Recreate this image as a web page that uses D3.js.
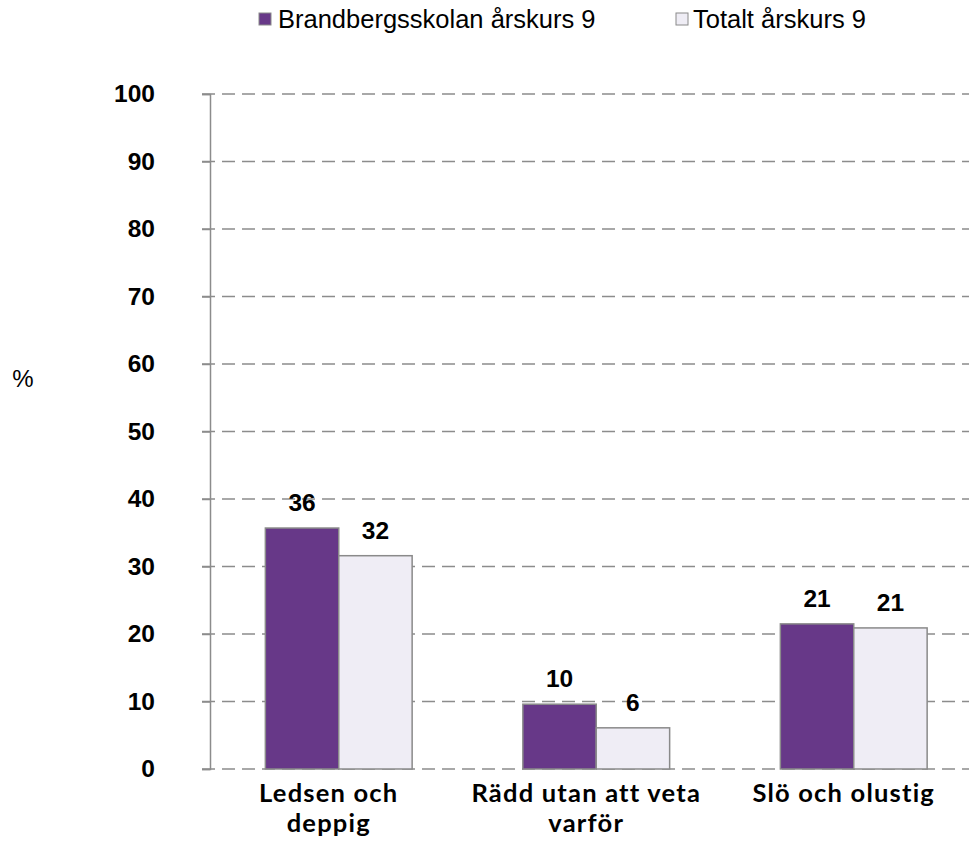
<!DOCTYPE html>
<html>
<head>
<meta charset="utf-8">
<script src="https://cdn.jsdelivr.net/npm/d3@7"></script>
<style>
  body { margin: 0; background: #fff; }
  svg { display: block; }
</style>
</head>
<body>
<div id="chart"></div>
<script>
// Chart data
const categories = [["Ledsen och", "deppig"], ["Rädd utan att veta", "varför"], ["Slö och olustig"]];
const seriesNames = ["Brandbergsskolan årskurs 9", "Totalt årskurs 9"];
const schoolValues = [35.7, 9.6, 21.5];
const totalValues = [31.6, 6.1, 20.9];
const valueLabels = [["36", "10", "21"], ["32", "6", "21"]];
const yTicks = [0, 10, 20, 30, 40, 50, 60, 70, 80, 90, 100];

const colors = ["#673888", "#efedf5"];
const width = 969, height = 844;
const margin = { left: 210, top: 94, bottom: 75 };
const plotRight = 982.5;

const svg = d3.select("#chart").append("svg")
    .attr("width", width).attr("height", height);

const x = d3.scaleBand()
    .domain(d3.range(categories.length))
    .range([margin.left, plotRight])
    .paddingInner(0.43).paddingOuter(0.215);
const xs = d3.scaleBand().domain([0, 1]).range([0, x.bandwidth()]);
const y = d3.scaleLinear().domain([0, 100]).range([height - margin.bottom, margin.top]);

// Gridlines (dashed, also at baseline)
svg.append("g").selectAll("line").data(yTicks).enter().append("line")
    .attr("x1", margin.left - 8).attr("x2", plotRight)
    .attr("y1", d => y(d)).attr("y2", d => y(d))
    .attr("stroke", "#8c8c8c").attr("stroke-width", 1.5)
    .attr("stroke-dasharray", "13,7");

// Y axis
const yAxis = d3.axisLeft(y).tickValues(yTicks).tickSize(8).tickPadding(47);
const gy = svg.append("g").attr("transform", `translate(${margin.left},0)`).call(yAxis);
gy.select(".domain").attr("stroke", "#8c8c8c").attr("stroke-width", 1.5);
gy.selectAll(".tick line").attr("stroke", "#8c8c8c").attr("stroke-width", 1.5);
gy.selectAll(".tick text")
    .attr("font-family", "Liberation Sans, Arial, sans-serif")
    .attr("font-weight", "bold").attr("font-size", 24.5).attr("fill", "#000");

// Y axis title
svg.append("text").attr("x", 23).attr("y", 387)
    .attr("text-anchor", "middle")
    .attr("font-family", "Liberation Sans, Arial, sans-serif")
    .attr("font-size", 24).text("%");

// Bars
const series = [schoolValues, totalValues];
series.forEach((vals, si) => {
    const g = svg.append("g");
    g.selectAll("rect").data(vals).enter().append("rect")
        .attr("x", (d, i) => x(i) + xs(si))
        .attr("y", d => y(d))
        .attr("width", xs.bandwidth())
        .attr("height", d => y(0) - y(d))
        .attr("fill", colors[si])
        .attr("stroke", "#8a8a8a").attr("stroke-width", 1.5);
    g.selectAll("text").data(vals).enter().append("text")
        .attr("x", (d, i) => x(i) + xs(si) + xs.bandwidth() / 2)
        .attr("y", d => y(d) - 17)
        .attr("text-anchor", "middle")
        .attr("font-family", "Liberation Sans, Arial, sans-serif")
        .attr("font-weight", "bold").attr("font-size", 24.5)
        .text((d, i) => valueLabels[si][i]);
});

// Category labels (sit slightly left of the bar groups, as in the original)
const cat = svg.append("g").selectAll("text").data(categories).enter().append("text")
    .attr("text-anchor", "middle")
    .attr("font-family", "Lato, 'Open Sans', sans-serif")
    .attr("font-weight", "bold").attr("font-size", 25.5)
    .attr("letter-spacing", 1.2);
cat.selectAll("tspan").data(d => d).enter().append("tspan")
    .attr("x", function () { const i = categories.indexOf(d3.select(this.parentNode).datum()); return x(i) + x.bandwidth() / 2 - 10; })
    .attr("y", (d, j) => 802 + j * 30)
    .text(d => d);

// Legend
const legendPos = [[259, 278], [676, 693]];
const legend = svg.append("g").selectAll("g").data(seriesNames).enter().append("g");
legend.append("rect")
    .attr("x", (d, i) => legendPos[i][0]).attr("y", 13)
    .attr("width", 12).attr("height", 12)
    .attr("fill", (d, i) => colors[i])
    .attr("stroke", "#8a8a8a").attr("stroke-width", 1);
legend.append("text")
    .attr("x", (d, i) => legendPos[i][1]).attr("y", 28)
    .attr("font-family", "Liberation Sans, Arial, sans-serif")
    .attr("font-size", 25.5)
    .text(d => d);
</script>
</body>
</html>
